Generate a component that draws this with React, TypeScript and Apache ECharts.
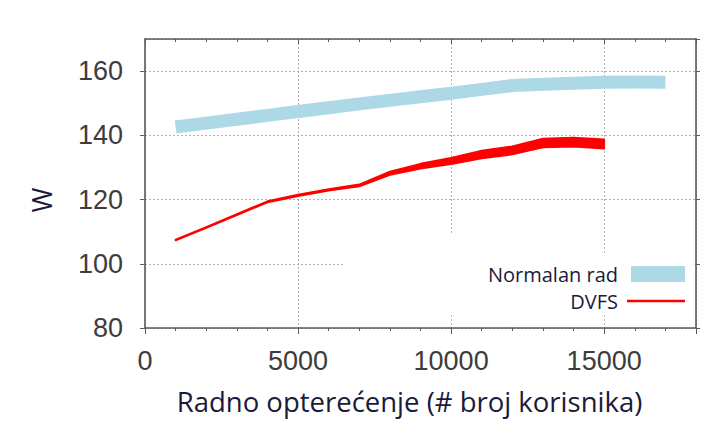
import React, { useEffect, useRef } from "react";
import * as echarts from "echarts";

// ---- data ----
const normalUsers = [1000, 2000, 3000, 4000, 5000, 6000, 7000, 8000, 9000, 10000, 11000, 12000, 13000, 14000, 15000, 16000, 17000];
const normalanRad = [142.6, 143.8, 145.0, 146.2, 147.4, 148.6, 149.8, 150.9, 152.0, 153.1, 154.3, 155.5, 155.9, 156.2, 156.5, 156.6, 156.5];

const dvfsUsers = [1000, 2000, 3000, 4000, 5000, 6000, 7000, 8000, 9000, 10000, 11000, 12000, 13000, 14000, 15000];
const dvfs = [107.4, 111.3, 115.3, 119.3, 121.3, 123.0, 124.4, 128.2, 130.4, 132.0, 134.0, 135.3, 137.6, 137.9, 137.3];
const dvfsSpread = [0.25, 0.25, 0.3, 0.35, 0.4, 0.5, 0.6, 1.0, 1.5, 2.0, 2.4, 2.5, 2.7, 2.8, 2.8];

const xMin = 0;
const xMax = 18000;
const xStep = 5000;
const yMin = 80;
const yMax = 170;
const yStep = 20;

const legendNames = ["Normalan rad", "DVFS"];
const xTitle = "Radno opterećenje (# broj korisnika)";
const yTitle = "W";

// region where the legend box hides the grid
const gridMask = [
  [[6500, 109], [12500, 84]],
  [[12500, 103.4], [17950, 84]],
];

const FONT = "'Liberation Sans', Arial, sans-serif";
const TFONT = "'Open Sans', 'Noto Sans', sans-serif";
const BLUE = "#add8e6";
const RED = "#ff0000";
const AXIS = "#5a5a5a";
const LABEL = "#3c3c3c";
const TITLE = "#1a1a3a";

export default function App() {
  const ref = useRef<HTMLDivElement>(null);

  useEffect(() => {
    if (!ref.current) return;
    const chart = echarts.init(ref.current, undefined, { renderer: "svg" });
    const splitLine = { show: true, lineStyle: { color: "#b0b0b0", type: [2, 2], width: 1 } };
    const plain = (v: number) => String(v);
    chart.setOption({
      animation: false,
      backgroundColor: "#ffffff",
      grid: { left: 137, right: 24, top: 31, bottom: 103 },
      xAxis: [
        {
          type: "value",
          min: xMin,
          max: xMax,
          interval: xStep,
          position: "bottom",
          axisLine: { show: true, lineStyle: { color: AXIS, width: 1.6 } },
          axisTick: { show: true, length: 6, lineStyle: { color: AXIS } },
          minorTick: { show: true, splitNumber: 5, length: 3, lineStyle: { color: AXIS } },
          axisLabel: { showMaxLabel: false, formatter: plain, fontSize: 27, color: LABEL, fontFamily: FONT, margin: 19 },
          splitLine,
          name: xTitle,
          nameLocation: "middle",
          nameGap: 59,
          nameTextStyle: { fontSize: 27.5, color: TITLE, fontFamily: TFONT, padding: [0, 22, 0, 0] },
        },
        {
          type: "value",
          min: xMin,
          max: xMax,
          interval: xStep,
          position: "top",
          axisLine: { show: true, onZero: false, lineStyle: { color: AXIS, width: 1.6 } },
          axisTick: { show: true, inside: true, length: 5, lineStyle: { color: AXIS } },
          minorTick: { show: true, splitNumber: 5, length: 3, lineStyle: { color: AXIS } },
          axisLabel: { show: false },
          splitLine: { show: false },
        },
      ],
      yAxis: [
        {
          type: "value",
          min: yMin,
          max: yMax,
          interval: yStep,
          position: "left",
          axisLine: { show: true, lineStyle: { color: AXIS, width: 1.6 } },
          axisTick: { show: true, length: 5, lineStyle: { color: AXIS } },
          axisLabel: { showMaxLabel: false, formatter: plain, fontSize: 27, color: LABEL, fontFamily: FONT, margin: 22 },
          splitLine,
          name: yTitle,
          nameLocation: "middle",
          nameGap: 90,
          nameRotate: 90,
          nameTextStyle: { fontSize: 27, color: TITLE, fontFamily: TFONT, padding: [0, 33, 0, 0] },
        },
        {
          type: "value",
          min: yMin,
          max: yMax,
          interval: yStep,
          position: "right",
          axisLine: { show: true, onZero: false, lineStyle: { color: AXIS, width: 1.6 } },
          axisTick: { show: true, length: 4, lineStyle: { color: AXIS } },
          axisLabel: { show: false },
          splitLine: { show: false },
        },
      ],
      legend: [
        {
          data: [{ name: legendNames[0], icon: "rect", itemStyle: { color: BLUE } }],
          right: 35,
          top: 256,
          padding: 0,
          align: "right",
          itemWidth: 54,
          itemHeight: 16,
          selectedMode: false,
          textStyle: { fontSize: 20, lineHeight: 19, color: TITLE, fontFamily: TFONT, padding: [0, 8, 0, 0] },
        },
        {
          data: [{ name: legendNames[1], icon: "rect", itemStyle: { color: RED } }],
          right: 35,
          top: 283,
          padding: 0,
          align: "right",
          itemWidth: 58,
          itemHeight: 2.5,
          selectedMode: false,
          textStyle: { fontSize: 20, lineHeight: 19, color: TITLE, fontFamily: TFONT, padding: [0, 4, 0, 0] },
        },
      ],
      series: [
        {
          name: legendNames[0],
          type: "line",
          data: normalUsers.map((x, i) => [x, normalanRad[i]]),
          showSymbol: false,
          symbol: "none",
          lineStyle: { color: BLUE, width: 13, cap: "butt", join: "miter" },
          itemStyle: { color: BLUE },
          silent: true,
          markArea: {
            silent: true,
            label: { show: false },
            itemStyle: { color: "#ffffff" },
            data: gridMask.map(([a, b]) => [{ coord: a }, { coord: b }]),
          },
        },
        {
          name: legendNames[1],
          type: "custom",
          data: dvfsUsers.map((x, i) => [x, dvfs[i], dvfsSpread[i]]),
          itemStyle: { color: RED },
          silent: true,
          renderItem: (params: any, api: any) => {
            if (params.dataIndex !== 0) return null;
            const upper = dvfsUsers.map((x, i) => api.coord([x, dvfs[i] + dvfsSpread[i] / 2]));
            const lower = dvfsUsers.map((x, i) => api.coord([x, dvfs[i] - dvfsSpread[i] / 2])).reverse();
            return {
              type: "polygon",
              shape: { points: upper.concat(lower) },
              style: { fill: RED, stroke: RED, lineWidth: 1.8, lineJoin: "round" },
            };
          },
        },
      ],
    });
    return () => chart.dispose();
  }, []);

  return <div ref={ref} style={{ width: 712, height: 423 }} />;
}
